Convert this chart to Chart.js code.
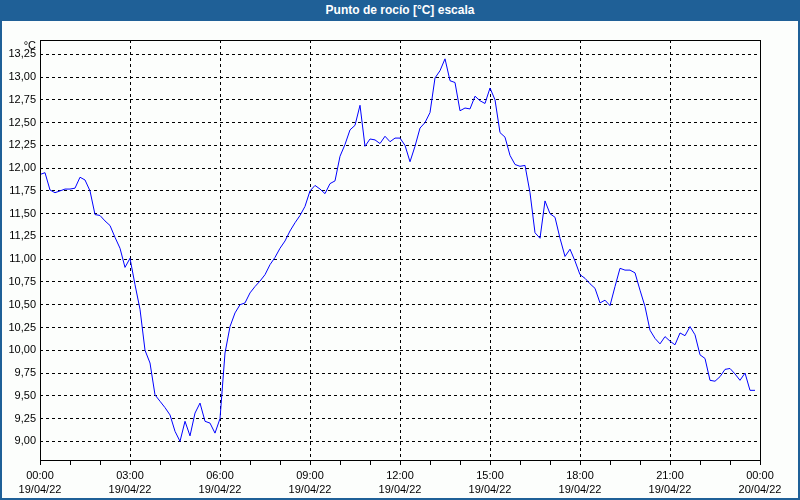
<!DOCTYPE html>
<html>
<head>
<meta charset="utf-8">
<script src="https://cdn.jsdelivr.net/npm/chart.js@4/dist/chart.umd.min.js"></script>
<style>
  body { margin: 0; }
  #wrap { position: relative; width: 800px; height: 500px; background: #fcfefc; overflow: hidden; }
  #c { position: absolute; left: 0; top: 0; }
  #titulo {
    position: absolute; left: 0; top: 0; width: 800px; height: 21px;
    background: #1f6097; color: #fff; text-align: center;
    font: bold 12px "Liberation Sans", Arial, sans-serif; line-height: 21px;
  }
  #marco { position: absolute; left: 0; top: 0; width: 800px; height: 500px; box-sizing: border-box; border: 2px solid #1f6097; pointer-events: none; }
</style>
</head>
<body>
<div id="wrap">
  <canvas id="c" width="800" height="500"></canvas>
  <div id="titulo">Punto de rocío [°C] escala</div>
  <div id="marco"></div>
</div>
<script>
// Punto de rocío, muestras cada 10 minutos (19/04/22 00:00 - 23:50)
const puntoRocio = [
  11.93, 11.95, 11.76, 11.73, 11.75, 11.77, 11.77, 11.78, 11.90, 11.87,
  11.75, 11.49, 11.48, 11.42, 11.37, 11.24, 11.12, 10.91, 11.01, 10.72,
  10.45, 10.00, 9.86, 9.51, 9.44, 9.37, 9.29, 9.11, 9.00, 9.22,
  9.06, 9.31, 9.42, 9.22, 9.20, 9.09, 9.25, 9.97, 10.26, 10.41,
  10.50, 10.52, 10.63, 10.70, 10.76, 10.83, 10.94, 11.02, 11.12, 11.20,
  11.31, 11.40, 11.48, 11.58, 11.75, 11.81, 11.77, 11.72, 11.83, 11.86,
  12.13, 12.26, 12.42, 12.47, 12.69, 12.24, 12.32, 12.31, 12.27, 12.35,
  12.29, 12.33, 12.33, 12.25, 12.07, 12.24, 12.44, 12.50, 12.61, 12.99,
  13.07, 13.20, 12.96, 12.94, 12.63, 12.66, 12.65, 12.79, 12.74, 12.71,
  12.88, 12.75, 12.39, 12.34, 12.14, 12.04, 12.02, 12.03, 11.73, 11.29,
  11.23, 11.64, 11.50, 11.46, 11.23, 11.03, 11.11, 10.98, 10.83, 10.79,
  10.73, 10.68, 10.52, 10.55, 10.49, 10.70, 10.90, 10.88, 10.88, 10.85,
  10.66, 10.48, 10.22, 10.13, 10.07, 10.15, 10.10, 10.06, 10.19, 10.16,
  10.26, 10.17, 9.95, 9.91, 9.67, 9.66, 9.71, 9.79, 9.80, 9.74,
  9.67, 9.75, 9.56, 9.56
];
const intervaloMin = 10;
const minutos = puntoRocio.map((_, i) => i * intervaloMin);

const horasEje = ['00:00', '03:00', '06:00', '09:00', '12:00', '15:00', '18:00', '21:00', '00:00'];
const fechasEje = ['19/04/22', '19/04/22', '19/04/22', '19/04/22', '19/04/22', '19/04/22', '19/04/22', '19/04/22', '20/04/22'];
const ticksY = [9.00, 9.25, 9.50, 9.75, 10.00, 10.25, 10.50, 10.75, 11.00, 11.25, 11.50, 11.75, 12.00, 12.25, 12.50, 12.75, 13.00, 13.25];

const FUENTE = { family: '"Liberation Sans", Arial, sans-serif', size: 11 };

const marcoPlot = {
  id: 'marcoPlot',
  afterDatasetsDraw(chart) {
    const a = chart.chartArea, ctx = chart.ctx;
    ctx.save();
    ctx.strokeStyle = '#000';
    ctx.lineWidth = 1;
    ctx.setLineDash([]);
    ctx.strokeRect(a.left + 0.5, a.top + 0.5, a.right - a.left, a.bottom - a.top - 1);
    ctx.fillStyle = '#000';
    ctx.font = '11px "Liberation Sans", Arial, sans-serif';
    ctx.textAlign = 'right';
    ctx.textBaseline = 'middle';
    ctx.fillText('°C', 36, 46);
    ctx.restore();
  }
};

new Chart(document.getElementById('c').getContext('2d'), {
  type: 'line',
  data: {
    datasets: [{
      data: minutos.map((m, i) => ({ x: m, y: puntoRocio[i] })),
      borderColor: '#0000ff',
      borderWidth: 1,
      pointRadius: 0,
      tension: 0,
      fill: false
    }]
  },
  options: {
    responsive: false,
    devicePixelRatio: 1,
    animation: false,
    layout: { padding: { top: 40, left: 0, right: 40, bottom: 0 } },
    plugins: { legend: { display: false }, tooltip: { enabled: false } },
    scales: {
      x: {
        type: 'linear',
        min: 0,
        max: 1440,
        afterFit: s => { s.height = 39; },
        border: { display: false, dash: [3, 3] },
        grid: {
          color: c => (c.tick && c.tick.value % 180 === 0 && c.tick.value > 0 && c.tick.value < 1440) ? '#000' : 'rgba(0,0,0,0)',
          tickColor: '#000',
          tickLength: 4,
          tickBorderDash: [1, 0],
          lineWidth: 1
        },
        ticks: {
          stepSize: 60,
          autoSkip: false,
          maxRotation: 0,
          padding: 4,
          color: '#000',
          font: { ...FUENTE, lineHeight: 1.3 },
          callback: v => v % 180 === 0 ? [horasEje[v / 180], fechasEje[v / 180]] : ''
        }
      },
      y: {
        min: 8.784,
        max: 13.407,
        afterFit: s => { s.width = 40; },
        afterBuildTicks: s => { s.ticks = ticksY.map(v => ({ value: v })); },
        border: { display: false, dash: [3, 3] },
        grid: {
          color: '#000',
          drawTicks: false,
          lineWidth: 1
        },
        ticks: {
          padding: 4,
          color: '#000',
          font: FUENTE,
          callback: v => Number(v).toFixed(2).replace('.', ',')
        }
      }
    }
  },
  plugins: [marcoPlot]
});
</script>
</body>
</html>
